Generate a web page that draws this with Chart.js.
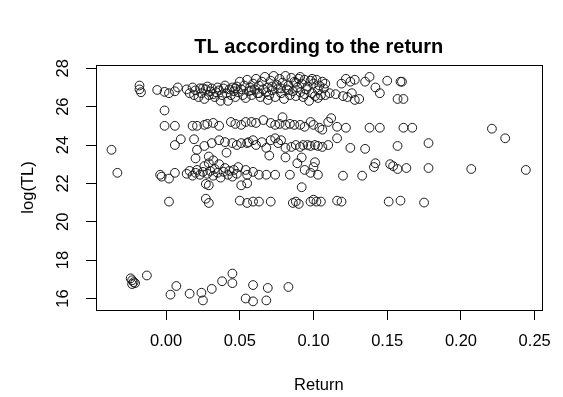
<!DOCTYPE html>
<html>
<head>
<meta charset="utf-8">
<script src="https://cdn.jsdelivr.net/npm/chart.js@4.4.1/dist/chart.umd.min.js"></script>
<style>
  html, body { margin: 0; padding: 0; background: #fff; }
  canvas { display: block; }
</style>
</head>
<body>
<canvas id="chart" width="563" height="397"></canvas>
<script>
// Return values (x) and log(TL) values (y)
const returns = [
  // upper band, left
  -0.018, -0.018, -0.017, -0.006, -0.001, 0.002, 0.006, 0.008, -0.001,
  // upper band, dense part
  0.014, 0.016, 0.018, 0.019, 0.020, 0.022, 0.023, 0.024, 0.026, 0.027, 0.028, 0.029, 0.030, 0.031, 0.033, 0.034,
  0.035, 0.036, 0.037, 0.038, 0.039, 0.040, 0.041, 0.042, 0.043, 0.044, 0.045, 0.046, 0.047, 0.048, 0.049, 0.050,
  0.051, 0.052, 0.053, 0.054, 0.055, 0.056, 0.057, 0.058, 0.059, 0.060, 0.061, 0.062, 0.063, 0.064, 0.065, 0.066,
  0.067, 0.068, 0.069, 0.070, 0.071, 0.072, 0.073, 0.074, 0.075, 0.076, 0.077, 0.078, 0.079, 0.080, 0.081, 0.082,
  0.083, 0.084, 0.085, 0.086, 0.087, 0.088, 0.089, 0.090, 0.091, 0.092, 0.093, 0.094, 0.095, 0.096, 0.097, 0.098,
  0.099, 0.100, 0.101, 0.102, 0.103, 0.104, 0.105, 0.106, 0.107,
  0.025, 0.032, 0.047, 0.058, 0.063, 0.069, 0.072, 0.078, 0.083, 0.088, 0.091, 0.094, 0.099, 0.103,
  // upper band, right
  0.108, 0.119, 0.122, 0.125, 0.128, 0.135, 0.138, 0.142, 0.145, 0.150, 0.159, 0.160,
  0.108, 0.111, 0.115, 0.120, 0.123, 0.126, 0.128, 0.131, 0.157, 0.161,
  // band near 25
  -0.001, 0.006, 0.018, 0.021, 0.026, 0.028, 0.032, 0.036, 0.044, 0.047, 0.051, 0.054,
  0.058, 0.061, 0.066, 0.071, 0.074, 0.077, 0.079, 0.081, 0.084, 0.087, 0.091, 0.094, 0.098, 0.100,
  0.104, 0.106, 0.110, 0.112, 0.116, 0.122, 0.138, 0.145, 0.161, 0.167, 0.221, 0.230,
  // band near 24
  -0.037, 0.006, 0.010, 0.019, 0.021, 0.026, 0.031, 0.036, 0.040, 0.045, 0.048, 0.051, 0.055,
  0.056, 0.059, 0.061, 0.065, 0.068, 0.071, 0.074, 0.076, 0.078, 0.081, 0.085, 0.088, 0.091, 0.093,
  0.096, 0.098, 0.101, 0.103, 0.106, 0.110, 0.116, 0.125, 0.135, 0.157, 0.178,
  0.020, 0.029, 0.032, 0.041, 0.070, 0.081, 0.092,
  // band near 22.5
  -0.033, -0.004, -0.003, 0.002, 0.006,
  0.014, 0.016, 0.018, 0.020, 0.021, 0.023, 0.025, 0.026, 0.028, 0.029, 0.030, 0.032, 0.033, 0.035, 0.036, 0.037,
  0.039, 0.040, 0.042, 0.043, 0.045, 0.046, 0.048,
  0.049, 0.054, 0.055, 0.059, 0.063, 0.068, 0.074, 0.084, 0.089, 0.094, 0.098, 0.100, 0.101, 0.103,
  0.120, 0.133, 0.141, 0.142, 0.152, 0.154, 0.157, 0.163, 0.178, 0.207, 0.244,
  0.027, 0.029, 0.051, 0.055, 0.092,
  // band near 21
  0.002, 0.027, 0.029, 0.050, 0.055, 0.059, 0.063, 0.071, 0.086, 0.088, 0.090, 0.098, 0.100, 0.102, 0.105,
  0.116, 0.119, 0.151, 0.159, 0.175,
  // low cluster
  -0.024, -0.023, -0.022, -0.023, -0.021, -0.013, 0.003, 0.007, 0.016, 0.024, 0.025, 0.031, 0.038, 0.045, 0.045,
  0.054, 0.059, 0.069, 0.083, 0.059, 0.068
];

const logTL = [
  27.10, 26.90, 26.75, 26.87, 26.77, 26.70, 26.80, 27.00, 25.80,
  26.90, 26.70, 27.00, 26.60, 26.85, 26.50, 26.95, 26.70, 26.40, 26.90, 27.05, 26.60, 26.80, 26.95, 26.50, 26.75,
  27.00, 26.85, 26.30, 26.60, 26.95, 27.10, 26.70, 26.30, 26.90, 26.60, 27.00, 26.80, 26.50, 27.05, 26.75, 27.30,
  26.90, 26.60, 27.10, 26.45, 27.40, 26.80, 27.00, 26.60, 27.20, 26.90, 27.45, 26.70, 27.10, 26.50, 27.30, 26.90,
  27.55, 26.75, 27.00, 26.60, 27.35, 26.85, 27.60, 26.50, 27.15, 26.95, 27.45, 26.70, 27.25, 26.40, 27.60, 26.90,
  27.10, 26.60, 27.50, 26.80, 27.30, 26.55, 27.00, 27.45, 26.75, 27.20, 26.50, 27.40, 26.90, 27.05, 26.30, 27.35,
  26.70, 27.20, 26.55, 27.40, 26.85, 27.10, 26.60, 27.30, 26.95,
  26.95, 26.65, 26.95, 26.85, 26.70, 26.35, 27.05, 26.95, 26.85, 27.25, 27.55, 26.65, 27.45, 26.45,
  27.20, 27.20, 27.45, 27.30, 27.40, 27.30, 27.55, 27.00, 26.70, 27.35, 27.30, 27.30,
  26.60, 26.70, 26.65, 26.55, 26.50, 26.70, 26.35, 26.40, 26.40, 26.40,
  25.00, 25.00, 25.00, 25.00, 25.05, 25.10, 25.15, 25.00, 25.20, 25.10, 25.05, 25.20,
  25.20, 25.15, 25.30, 25.15, 25.05, 25.10, 25.45, 25.05, 25.10, 25.05, 25.05, 24.95, 25.20, 25.05,
  24.90, 24.80, 25.20, 25.40, 24.95, 24.90, 24.90, 24.90, 24.90, 24.90, 24.85, 24.35,
  23.75, 24.00, 24.30, 24.30, 23.75, 23.95, 24.10, 24.25, 24.15, 24.10, 24.00, 24.10, 24.10,
  24.15, 24.25, 24.00, 24.15, 23.85, 24.25, 24.35, 24.10, 24.25, 23.85, 23.90, 24.00, 23.90, 24.00,
  24.00, 23.95, 24.00, 23.95, 23.90, 24.00, 24.35, 23.85, 23.80, 23.95, 24.10,
  23.30, 23.40, 23.20, 23.60, 23.45, 23.35, 23.35,
  22.55, 22.45, 22.35, 22.25, 22.55,
  22.50, 22.65, 22.40, 22.55, 22.70, 22.45, 22.60, 22.90, 22.50, 23.05, 22.65, 22.40, 22.75, 22.55, 23.00, 22.30,
  22.60, 22.80, 22.45, 22.65, 22.35, 22.70, 22.50,
  22.85, 22.70, 22.45, 22.60, 22.45, 22.45, 22.45, 22.45, 23.05, 22.70, 22.55, 22.85, 23.10, 22.45,
  22.40, 22.40, 22.85, 23.05, 23.00, 22.90, 22.75, 22.80, 22.80, 22.75, 22.70,
  21.97, 21.90, 21.90, 22.00, 21.80,
  21.05, 21.20, 20.98, 21.10, 20.98, 21.05, 21.05, 21.05, 20.98, 21.05, 20.93, 21.05, 21.15, 21.05, 21.05,
  21.10, 21.05, 21.05, 21.10, 21.00,
  17.05, 16.95, 16.85, 16.75, 16.80, 17.20, 16.20, 16.65, 16.25, 16.30, 15.90, 16.50, 16.90, 16.80, 17.30,
  16.00, 16.70, 16.55, 16.60, 15.85, 15.90
];

const xTicks = [0, 0.05, 0.10, 0.15, 0.20, 0.25];
const yTicks = [16, 18, 20, 22, 24, 26, 28];

const chartTitle = 'TL according to the return';
const xLabel = 'Return';
const yLabel = 'log(TL)';

const FONT = "'Liberation Sans', Arial, Helvetica, sans-serif";

const points = returns.map((x, i) => ({ x: x, y: logTL[i] }));

// box round the plot region and the title over it, like base R graphics
const boxAndTitle = {
  id: 'boxAndTitle',
  afterDraw: (chart) => {
    const { ctx, chartArea } = chart;
    const { left, top, right, bottom } = chartArea;
    ctx.save();
    ctx.strokeStyle = '#000';
    ctx.lineWidth = 1;
    ctx.strokeRect(Math.round(left) + 0.5, Math.round(top) + 0.5,
      Math.round(right - left), Math.round(bottom - top));
    ctx.fillStyle = '#000';
    ctx.font = 'bold 20px ' + FONT;
    ctx.textAlign = 'center';
    ctx.textBaseline = 'middle';
    ctx.fillText(chartTitle, (left + right) / 2, 47);
    ctx.restore();
  }
};

new Chart(document.getElementById('chart'), {
  type: 'scatter',
  data: {
    datasets: [{
      data: points,
      pointStyle: 'circle',
      pointRadius: 4.4,
      pointHoverRadius: 4.4,
      borderWidth: 1,
      borderColor: '#1a1a1a',
      backgroundColor: 'rgba(0,0,0,0)'
    }]
  },
  options: {
    responsive: false,
    animation: false,
    devicePixelRatio: 1,
    layout: { padding: { top: 65, right: 17, left: 0, bottom: 0 } },
    plugins: {
      legend: { display: false },
      tooltip: { enabled: false }
    },
    scales: {
      x: {
        type: 'linear',
        min: -0.0475,
        max: 0.2547,
        afterBuildTicks: (scale) => { scale.ticks = xTicks.map(v => ({ value: v })); },
        afterFit: (scale) => { scale.height = 87; },
        grid: { display: true, drawOnChartArea: false, drawTicks: true, tickLength: 10, color: '#000' },
        border: { display: true, color: '#000' },
        ticks: {
          color: '#000',
          padding: 12,
          maxRotation: 0,
          font: { family: FONT, size: 16.5 },
          callback: (v) => Number(v).toFixed(2)
        },
        title: {
          display: true,
          text: xLabel,
          color: '#000',
          font: { family: FONT, size: 16.5 },
          padding: { top: 0, bottom: 2 }
        }
      },
      y: {
        type: 'linear',
        min: 15.40,
        max: 28.17,
        afterBuildTicks: (scale) => { scale.ticks = yTicks.map(v => ({ value: v })); },
        afterFit: (scale) => { scale.width = 96; },
        grid: { display: true, drawOnChartArea: false, drawTicks: true, tickLength: 10, color: '#000' },
        border: { display: true, color: '#000' },
        ticks: {
          color: '#000',
          padding: 13,
          minRotation: 90,
          maxRotation: 90,
          crossAlign: 'center',
          font: { family: FONT, size: 16.5 },
          callback: (v) => String(v)
        },
        title: {
          display: true,
          text: yLabel,
          color: '#000',
          font: { family: FONT, size: 16.5 },
          padding: { top: 19, bottom: 0 }
        }
      }
    }
  },
  plugins: [boxAndTitle]
});
</script>
</body>
</html>
